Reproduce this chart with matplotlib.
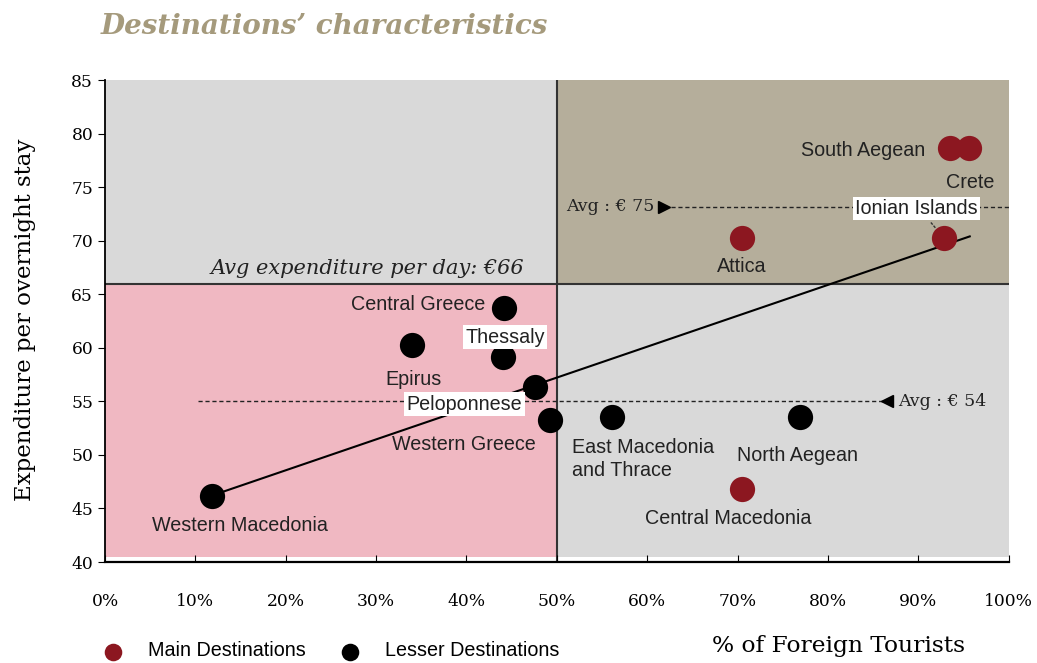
import matplotlib
matplotlib.use("Agg")
import matplotlib.pyplot as plt
from matplotlib.patches import Rectangle

# ---- data ----
regions = ["Western Macedonia", "Epirus", "Central Greece", "Thessaly", "Peloponnese",
           "Western Greece", "East Macedonia\nand Thrace", "North Aegean", "Central Macedonia",
           "Attica", "Ionian Islands", "South Aegean", "Crete"]
foreign_pct = [11.8, 34.0, 44.1, 44.0, 47.6, 49.2, 56.1, 76.9, 70.5, 70.5, 92.9, 93.5, 95.6]
expenditure = [46.2, 60.3, 63.7, 59.1, 56.3, 53.3, 53.5, 53.5, 46.8, 70.25, 70.25, 78.65, 78.7]
is_main = [False, False, False, False, False, False, False, False, True, True, True, True, True]
trend_x = [11.8, 95.7]
trend_y = [46.2, 70.4]
avg_all = 66
split_pct = 50
avg_main_line = 73.1
avg_lesser_line = 55.0
x_ticks = [0, 10, 20, 30, 40, 50, 60, 70, 80, 90, 100]
y_ticks = [40, 45, 50, 55, 60, 65, 70, 75, 80, 85]

RED = "#8c1720"
TAN = "#b5ae9b"
GREY = "#d9d9d9"
PINK = "#f0b8c2"
TITLE_C = "#a59a7c"
SERIF = "DejaVu Serif"
SANS = "Liberation Sans"

fig = plt.figure(figsize=(10.37, 6.63), dpi=100)
ax = fig.add_axes([0.1013, 0.1523, 0.8713, 0.727])
ax.set_xlim(0, 100)
ax.set_ylim(40, 85)

# quadrant backgrounds
ax.add_patch(Rectangle((0, avg_all), split_pct, 85 - avg_all, color=GREY, zorder=0, lw=0))
ax.add_patch(Rectangle((split_pct, avg_all), 100 - split_pct, 85 - avg_all, color=TAN, zorder=0, lw=0))
ax.add_patch(Rectangle((0, 40.5), split_pct, avg_all - 40.5, color=PINK, zorder=0, lw=0))
ax.add_patch(Rectangle((split_pct, 40.5), 100 - split_pct, avg_all - 40.5, color=GREY, zorder=0, lw=0))

ax.axhline(avg_all, color="#333333", lw=1.5, zorder=1)
ax.axvline(split_pct, color="#333333", lw=1.5, zorder=1)

# dashed average lines
ax.plot([61.9, 100], [avg_main_line] * 2, ls=(0, (3, 2)), color="#222222", lw=1, zorder=2)
ax.plot([61.9], [avg_main_line], marker=">", color="black", ms=9, zorder=3)
ax.plot([10.3, 86.5], [avg_lesser_line] * 2, ls=(0, (3, 2)), color="#222222", lw=1, zorder=2)
ax.plot([86.5], [avg_lesser_line], marker="<", color="black", ms=9, zorder=3)

# trend line
ax.plot(trend_x, trend_y, color="black", lw=1.5, zorder=2)

# points
for x, y, m in zip(foreign_pct, expenditure, is_main):
    ax.scatter([x], [y], s=330, color=RED if m else "black", zorder=4, lw=0)

# Ionian Islands leader
ax.plot([91.4, 91.9], [71.7, 71.2], color="#333333", lw=1, ls=(0, (2, 1)), zorder=3)

# labels
lab_kw = dict(fontsize=14.2, family=SANS, color="#222222", zorder=5)
box = dict(boxstyle="square,pad=0.12", fc="white", ec="none")
label_pos = {
    "Western Macedonia": (14.9, 43.45, "center", None),
    "Epirus": (34.1, 57.0, "center", None),
    "Central Greece": (34.6, 64.0, "center", None),
    "Thessaly": (44.3, 61.0, "center", box),
    "Peloponnese": (39.8, 54.75, "center", box),
    "Western Greece": (39.7, 51.0, "center", None),
    "East Macedonia\nand Thrace": (51.7, 49.6, "left", None),
    "North Aegean": (76.6, 49.9, "center", None),
    "Central Macedonia": (69.0, 44.1, "center", None),
    "Attica": (70.5, 67.6, "center", None),
    "Ionian Islands": (89.8, 73.0, "center", box),
    "South Aegean": (90.8, 78.4, "right", None),
    "Crete": (95.8, 75.4, "center", None),
}
for name in regions:
    lx, ly, ha, bb = label_pos[name]
    ax.text(lx, ly, name, ha=ha, va="center", bbox=bb, linespacing=1.25, **lab_kw)

ax.text(29.0, 67.45, "Avg expenditure per day: €66", ha="center", va="center",
        fontsize=15, family=SERIF, style="italic", color="#222222", zorder=5)
ax.text(60.8, 73.2, "Avg : € 75", ha="right", va="center", fontsize=12.5,
        family=SERIF, color="#222222", zorder=5)
ax.text(87.8, 55.0, "Avg : € 54", ha="left", va="center", fontsize=12.5,
        family=SERIF, color="#222222", zorder=5)

# axes styling
for s in ["top", "right"]:
    ax.spines[s].set_visible(False)
ax.spines["left"].set_linewidth(1.3)
ax.spines["bottom"].set_linewidth(1.6)
ax.set_xticks(x_ticks)
ax.set_xticklabels([f"{t}%" for t in x_ticks], family=SERIF, fontsize=12.3)
ax.set_yticks(y_ticks)
ax.set_yticklabels([str(t) for t in y_ticks], family=SERIF, fontsize=12.3)
ax.tick_params(axis="x", direction="in", length=5, pad=22)
ax.tick_params(axis="y", direction="out", length=5)

fig.text(25 / 1037, 0.517, "Expenditure per overnight stay", family=SERIF, fontsize=16.5,
         rotation=90, ha="center", va="center")
fig.text(839 / 1037, 1 - 646 / 663, "% of Foreign Tourists", family=SERIF, fontsize=16.8,
         ha="center", va="center")

fig.text(101 / 1037, 1 - 27 / 663, "Destinations’ characteristics", family=SERIF, fontsize=20,
         style="italic", weight="bold", color=TITLE_C, ha="left", va="center")

# legend
lax = fig.add_axes([0, 0, 1, 1], zorder=-1)
lax.set_xlim(0, 1037); lax.set_ylim(663, 0); lax.axis("off")
lax.scatter([113], [652], s=160, color=RED, lw=0)
lax.scatter([350], [652], s=160, color="black", lw=0)
lax.text(148, 651, "Main Destinations", family=SANS, fontsize=14.2, va="center")
lax.text(385, 651, "Lesser Destinations", family=SANS, fontsize=14.2, va="center")

fig.savefig("out.png", dpi=100)
